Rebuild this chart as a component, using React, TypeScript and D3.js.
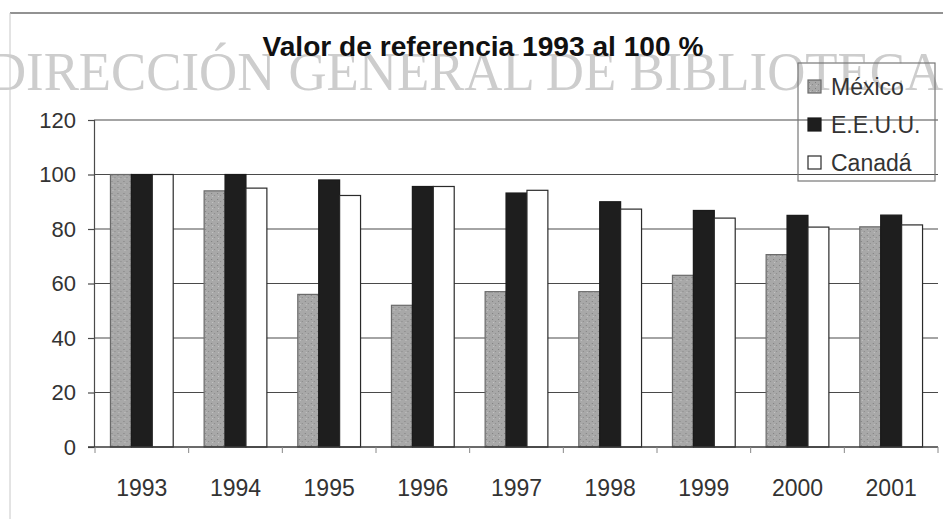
import * as d3 from 'd3';
import React, { useEffect, useRef } from 'react';

const years = ['1993', '1994', '1995', '1996', '1997', '1998', '1999', '2000', '2001'];
const series = ['México', 'E.E.U.U.', 'Canadá'];
const mexico = [100, 94, 56, 52, 57, 57, 63, 70.6, 80.8];
const eeuu = [100, 100, 98, 95.6, 93.2, 90, 86.8, 85, 85.1];
const canada = [100, 95, 92.3, 95.6, 94.2, 87.3, 84, 80.7, 81.5];
const yTicks = [0, 20, 40, 60, 80, 100, 120];

const title = 'Valor de referencia 1993 al 100 %';
const watermark = 'DIRECCIÓN GENERAL DE BIBLIOTECA';

export default function App() {
    const wrapper = useRef<SVGSVGElement>(null);

    useEffect(() => {
        const width = 943, height = 519;
        const svg = d3.select(wrapper.current);
        svg.selectAll('*').remove();
        svg.attr('width', width).attr('height', height);

        const font = 'Liberation Sans, Arial, sans-serif';
        const values = [mexico, eeuu, canada];
        const fills = ['url(#grain)', '#1e1e1e', '#ffffff'];
        const strokes = ['#6a6a6a', '#1a1a1a', '#2a2a2a'];

        // textura moteada para México
        const defs = svg.append('defs');
        const pat = defs.append('pattern')
            .attr('id', 'grain')
            .attr('patternUnits', 'userSpaceOnUse')
            .attr('width', 6).attr('height', 6);
        pat.append('rect').attr('width', 6).attr('height', 6).attr('fill', '#a8a8a8');
        pat.append('rect').attr('x', 1).attr('y', 1).attr('width', 1).attr('height', 1).attr('fill', '#808080');
        pat.append('rect').attr('x', 4).attr('y', 3).attr('width', 1).attr('height', 1).attr('fill', '#8a8a8a');
        pat.append('rect').attr('x', 2).attr('y', 4).attr('width', 1).attr('height', 1).attr('fill', '#c4c4c4');

        svg.append('rect').attr('width', width).attr('height', height).attr('fill', '#fff');

        // marco exterior
        svg.append('line').attr('x1', 10).attr('x2', width).attr('y1', 13).attr('y2', 13)
            .attr('stroke', '#6e6e6e').attr('stroke-width', 1.5);
        svg.append('line').attr('x1', 10).attr('x2', 10).attr('y1', 13).attr('y2', height)
            .attr('stroke', '#c8c8c8').attr('stroke-width', 1);

        // marca de agua
        svg.append('text')
            .attr('x', -12).attr('y', 90)
            .attr('textLength', 955)
            .attr('lengthAdjust', 'spacingAndGlyphs')
            .attr('font-family', 'Liberation Serif, Times New Roman, serif')
            .attr('font-size', 54)
            .attr('fill', '#cdcdcd')
            .text(watermark);

        svg.append('text')
            .attr('x', 483).attr('y', 56)
            .attr('text-anchor', 'middle')
            .attr('textLength', 441)
            .attr('lengthAdjust', 'spacingAndGlyphs')
            .attr('font-family', font)
            .attr('font-weight', 'bold')
            .attr('font-size', 27)
            .attr('fill', '#111')
            .text(title);

        const x = d3.scaleBand().domain(years).range([95, 938]).paddingInner(0.33).paddingOuter(0.165);
        const xs = d3.scaleBand().domain(series).range([0, x.bandwidth()]);
        const y = d3.scaleLinear().domain([0, 120]).range([447, 120]);

        // rejilla
        svg.append('g').selectAll('line')
            .data(yTicks.slice(1))
            .enter().append('line')
            .attr('x1', 94).attr('x2', 938)
            .attr('y1', d => y(d)).attr('y2', d => y(d))
            .attr('stroke', '#4a4a4a').attr('stroke-width', 1.2);

        // barras
        const groups = svg.append('g').selectAll('g')
            .data(years)
            .enter().append('g')
            .attr('transform', d => `translate(${x(d)},0)`);

        groups.selectAll('rect')
            .data((_, i) => series.map((s, k) => ({ s, k, v: values[k][i] })))
            .enter().append('rect')
            .attr('x', d => xs(d.s)!)
            .attr('width', xs.bandwidth())
            .attr('y', d => y(d.v))
            .attr('height', d => y(0) - y(d.v))
            .attr('fill', d => fills[d.k])
            .attr('stroke', d => strokes[d.k])
            .attr('stroke-width', 1.2);

        // ejes
        const yAxis = svg.append('g').attr('transform', 'translate(94,0)')
            .call(d3.axisLeft(y).tickValues(yTicks).tickSize(6).tickPadding(12));
        yAxis.select('.domain').attr('stroke', '#4a4a4a').attr('stroke-width', 1.2);
        yAxis.selectAll('.tick line').attr('stroke', '#4a4a4a').attr('stroke-width', 1.2);
        yAxis.selectAll('text')
            .attr('font-family', font).attr('font-size', 22).attr('fill', '#333');

        const step = x.step();
        svg.append('line').attr('x1', 88).attr('x2', 938).attr('y1', y(0)).attr('y2', y(0))
            .attr('stroke', '#3a3a3a').attr('stroke-width', 1.4);
        svg.append('g').selectAll('line')
            .data(d3.range(years.length + 1))
            .enter().append('line')
            .attr('x1', i => 95 + i * step).attr('x2', i => 95 + i * step)
            .attr('y1', y(0)).attr('y2', y(0) + 6)
            .attr('stroke', '#888').attr('stroke-width', 1);

        svg.append('g').selectAll('text')
            .data(years)
            .enter().append('text')
            .attr('x', d => x(d)! + x.bandwidth() / 2)
            .attr('y', 496)
            .attr('text-anchor', 'middle')
            .attr('font-family', font).attr('font-size', 23).attr('fill', '#333')
            .text(d => d);

        // leyenda
        const legend = svg.append('g');
        legend.append('rect')
            .attr('x', 798).attr('y', 63).attr('width', 137).attr('height', 118)
            .attr('fill', 'none').attr('stroke', '#777').attr('stroke-width', 1.2);
        const items = legend.selectAll('.legend')
            .data(series)
            .enter().append('g')
            .attr('class', 'legend')
            .attr('transform', (_, i) => `translate(808, ${87 + i * 38})`);
        items.append('rect')
            .attr('x', 0).attr('y', -7).attr('width', 13).attr('height', 13)
            .attr('fill', (_, i) => fills[i])
            .attr('stroke', (_, i) => strokes[i]).attr('stroke-width', 1.2);
        items.append('text')
            .attr('x', 23).attr('y', 8)
            .attr('font-family', font).attr('font-size', 23).attr('fill', '#333')
            .text(d => d);
    }, []);

    return <svg ref={wrapper} style={{ display: 'block', position: 'absolute', left: 0, top: 0 }} />;
}
